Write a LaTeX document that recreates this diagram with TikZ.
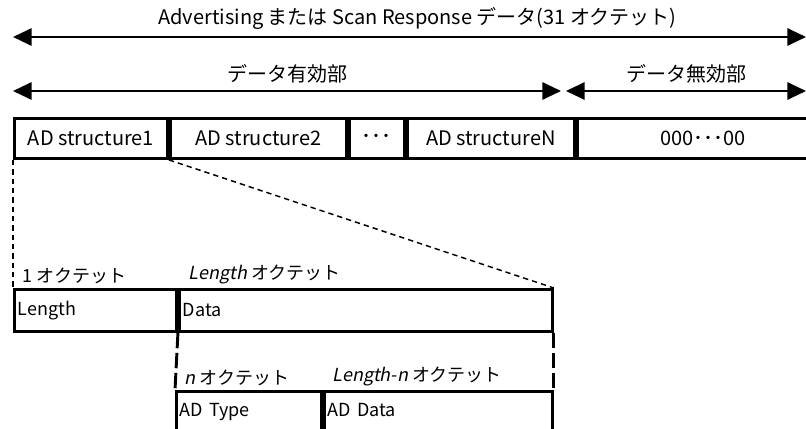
\documentclass[tikz,border=0pt]{standalone}
\usepackage{fontspec}
\setmainfont[AutoFakeSlant=0.2]{Noto Sans CJK JP}
\usetikzlibrary{positioning, arrows.meta}
\newcommand{\bigtxt}{\fontsize{15}{18}\selectfont}
\newcommand{\smalltxt}{\fontsize{13.5}{16}\selectfont}
\tikzset{
  cell/.style={
    draw=black, line width=2.2pt,
    inner sep=0pt,
    minimum width=#1,
    minimum height=30pt,
    font=\bigtxt
  },
  lcell/.style={
    draw=black, line width=2.2pt,
    inner xsep=2.5pt, inner ysep=0pt,
    text width=#1,
    align=left,
    minimum height=31.5pt,
    font=\smalltxt
  },
  span/.style={
    <->, >={Triangle[length=14pt,width=13pt]},
    line width=1.5pt
  },
  spanlabel/.style={
    font=\bigtxt,
    midway,
    above=4pt,
    inner sep=1pt
  },
  octlabel/.style={
    font=\smalltxt,
    inner sep=1pt
  },
  guide/.style={
    line width=1.1pt,
    dash pattern=on 4pt off 3pt
  },
  gap/.style={
    line width=2.2pt,
    dash pattern=on 11.5pt off 3.5pt
  }
}

\begin{document}
\begin{tikzpicture}[x=0.75pt, y=-0.75pt]
  \useasboundingbox (0,0) rectangle (806,428);

  \coordinate (aL) at (13,37);
  \coordinate (aR) at (806,37);
  \coordinate (vL) at (13,91);
  \coordinate (vR) at (561,91);
  \coordinate (iL) at (566,91);
  \coordinate (iR) at (806,91);

  \draw[span] (aL) -- node[spanlabel, xshift=6pt] (tall) {Advertising または Scan Response データ(31 オクテット)} (aR);
  \draw[span] (vL) -- node[spanlabel] (tvalid) {データ有効部} (vR);
  \draw[span] (iL) -- node[spanlabel] (tinvalid) {データ無効部} (iR);

  \node[cell=114.75pt, anchor=north west] (s1) at (13,117) {AD structure1};
  \node[cell=132pt, right=0pt of s1] (s2) {AD structure2};
  \node[cell=41.25pt, right=0pt of s2] (sdots) {･･･};
  \node[cell=125.25pt, right=0pt of sdots] (sN) {AD structureN};
  \node[cell=189pt, right=0pt of sN] (pad) {000･･･00};

  \node[lcell=116.5pt, anchor=north west] (len) at (13,288) {Length};
  \node[lcell=274.75pt, right=0pt of len] (data) {Data};

  \node[lcell=103.75pt, minimum height=42pt, anchor=north west, text depth=14pt] (type) at (175,390) {AD Type};
  \node[lcell=166pt, minimum height=42pt, right=0pt of type, text depth=14pt] (addata) {AD Data};

  \node[octlabel, above right=2pt and 6pt of len.north west] (o1) {1 オクテット};
  \node[octlabel, above right=2pt and 7pt of data.north west] (o2) {\textit{Length} オクテット};
  \node[octlabel, above right=2pt and 6pt of type.north west] (o3) {\textit{n} オクテット};
  \node[octlabel, above right=2pt and 6pt of addata.north west] (o4) {\textit{Length-n} オクテット};

  \draw[guide] (s1.south west) -- (len.north west);
  \draw[guide] (s1.south east) -- (data.north east);
  \draw[gap] (data.south west) -- (type.north west);
  \draw[gap] (data.south east) -- (addata.north east);
\end{tikzpicture}
\end{document}
